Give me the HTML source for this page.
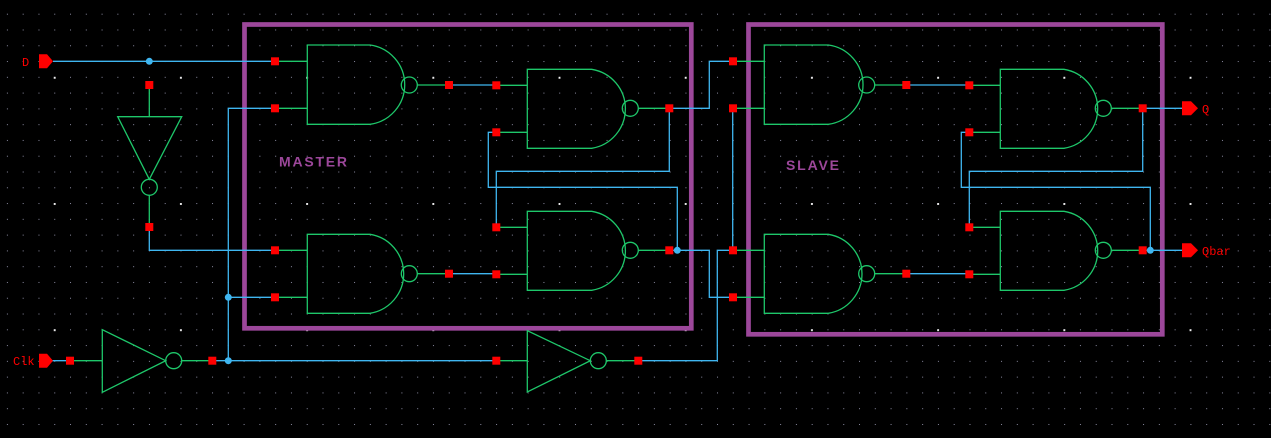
<!DOCTYPE html>
<html><head><meta charset="utf-8"><style>
html,body{margin:0;padding:0;background:#000;width:1271px;height:438px;overflow:hidden}
svg{display:block}
</style></head><body>
<svg width="1271" height="438" viewBox="0 0 1271 438" xmlns="http://www.w3.org/2000/svg">
<defs>
<pattern id="g" x="6.9" y="13.7" width="15.78" height="15.78" patternUnits="userSpaceOnUse">
<rect x="0" y="0" width="1" height="1" fill="#8a8aa0"/>
</pattern>
<pattern id="p" x="53.2" y="75.8" width="126.2" height="126.2" patternUnits="userSpaceOnUse">
<rect x="1" y="1.5" width="1" height="1" fill="#fff"/>
<rect x="0.5" y="1" width="2" height="2" fill="#fff" opacity="0.8"/>
</pattern>
</defs>
<rect width="1271" height="438" fill="#000"/>
<rect width="1271" height="438" fill="url(#g)"/>
<rect width="1271" height="438" fill="url(#p)"/>

<!-- boxes -->
<g fill="none" stroke="#9c479a" stroke-width="4.7">
<rect x="244.5" y="24.5" width="446.8" height="303.8"/>
<rect x="748.5" y="24.5" width="413.8" height="309.8"/>
</g>
<g font-family="Liberation Sans, sans-serif" font-weight="bold" font-size="14" fill="#9c479a">
<text x="279" y="166.5" textLength="68">MASTER</text>
<text x="786" y="170" textLength="53">SLAVE</text>
</g>

<!-- blue wires -->
<g fill="none" stroke="#3fb6f0" stroke-width="1.3">
<path d="M53 61.3H275"/>
<path d="M149.3 227V250.3H275"/>
<path d="M70 360.7H39"/>
<path d="M212.3 360.7H496.3"/>
<path d="M228.3 360.7V108.3H275"/>
<path d="M228.3 297.3H275"/>
<path d="M449 85H496.3"/>
<path d="M449 273.7H496.3"/>
<path d="M669.3 108.3V171.3H496.3V227.3"/>
<path d="M677.3 250.3V187.3H488.3V132.3H496.3"/>
<path d="M669.3 108.3H709.3V61.3H733"/>
<path d="M669.3 250.3H709.3V297.3H733"/>
<path d="M638.3 360.7H717.3V250.3H733"/>
<path d="M732.7 108.3V250.3"/>
<path d="M906.3 85H969.3"/>
<path d="M906.3 273.7H969.3"/>
<path d="M1142.7 108.3V171.3H969.3V227.3"/>
<path d="M1150.3 250.3V187.3H961.3V132.3H969.3"/>
<path d="M1142.7 108.3H1183"/>
<path d="M1142.7 250.3H1183"/>
</g>

<!-- gates -->
<g fill="none" stroke="#1ec76a" stroke-width="1.3">
<!-- D inverter -->
<path d="M149.3 85V116.7M117.7 116.7H181.7L149.3 179.3Z M117.7 116.7L149.3 179.3"/>
<circle cx="149.3" cy="187.3" r="8"/>
<path d="M149.3 195.3V227"/>
<!-- clk inverter1 -->
<path d="M70 360.7H102.3M102.3 329.7V392.3L165.7 360.7Z"/>
<circle cx="173.7" cy="360.7" r="8"/>
<path d="M181.7 360.7H212.3"/>
<!-- clk inverter2 -->
<path d="M496.3 360.7H527.3M527.3 330.7V392L590.3 360.7Z"/>
<circle cx="598.3" cy="360.7" r="8"/>
<path d="M606.3 360.7H638.3"/>

<!-- master NAND1 -->
<path d="M370 45H307.3V124.3H370A40 40 0 0 0 370 45Z"/>
<circle cx="409.3" cy="85" r="8"/><path d="M417.3 85H449M275 61.3H307.3M275 108.3H307.3"/>
<!-- master NAND2 -->
<path d="M370 234.3H307.3V313.3H370A40 40 0 0 0 370 234.3Z"/>
<circle cx="409.3" cy="273.7" r="8"/><path d="M417.3 273.7H449M275 250.3H307.3M275 297.3H307.3"/>
<!-- master NAND3 -->
<path d="M591.7 69.3H527.3V148.3H591.7A40 40 0 0 0 591.7 69.3Z"/>
<circle cx="630.3" cy="108.3" r="8"/><path d="M638.3 108.3H669.3M496.3 85.3H527.3M496.3 132.3H527.3"/>
<!-- master NAND4 -->
<path d="M591.7 211.3H527.3V290.3H591.7A40 40 0 0 0 591.7 211.3Z"/>
<circle cx="630.3" cy="250.3" r="8"/><path d="M638.3 250.3H669.3M496.3 227.3H527.3M496.3 274.3H527.3"/>

<!-- slave NAND1 -->
<path d="M828.3 45H764.3V124.3H828.3A40 40 0 0 0 828.3 45Z"/>
<circle cx="866.7" cy="85" r="8"/><path d="M874.7 85H906.3M733 61.3H764.3M733 108.3H764.3"/>
<!-- slave NAND2 -->
<path d="M828.3 234.3H764.3V313.3H828.3A40 40 0 0 0 828.3 234.3Z"/>
<circle cx="866.7" cy="273.7" r="8"/><path d="M874.7 273.7H906.3M733 250.3H764.3M733 297.3H764.3"/>
<!-- slave NAND3 -->
<path d="M1064 69.3H1000.3V148.3H1064A40 40 0 0 0 1064 69.3Z"/>
<circle cx="1103.3" cy="108.3" r="8"/><path d="M1111.3 108.3H1142.7M969.3 85.3H1000.3M969.3 132.3H1000.3"/>
<!-- slave NAND4 -->
<path d="M1064 211.3H1000.3V290.3H1064A40 40 0 0 0 1064 211.3Z"/>
<circle cx="1103.3" cy="250.3" r="8"/><path d="M1111.3 250.3H1142.7M969.3 227.3H1000.3M969.3 274.3H1000.3"/>
</g>

<!-- red squares -->
<g fill="#f00">
<rect x="145.3" y="81" width="8" height="8"/>
<rect x="145.3" y="223" width="8" height="8"/>
<rect x="66" y="356.7" width="8" height="8"/>
<rect x="208.3" y="356.7" width="8" height="8"/>
<rect x="271" y="57.3" width="8" height="8"/>
<rect x="271" y="104.3" width="8" height="8"/>
<rect x="271" y="246.3" width="8" height="8"/>
<rect x="271" y="293.3" width="8" height="8"/>
<rect x="445" y="81" width="8" height="8"/>
<rect x="445" y="269.7" width="8" height="8"/>
<rect x="492.3" y="81.3" width="8" height="8"/>
<rect x="492.3" y="128.3" width="8" height="8"/>
<rect x="492.3" y="223.3" width="8" height="8"/>
<rect x="492.3" y="270.3" width="8" height="8"/>
<rect x="492.3" y="356.7" width="8" height="8"/>
<rect x="634.3" y="356.7" width="8" height="8"/>
<rect x="665.3" y="104.3" width="8" height="8"/>
<rect x="665.3" y="246.3" width="8" height="8"/>
<rect x="729" y="57.3" width="8" height="8"/>
<rect x="729" y="104.3" width="8" height="8"/>
<rect x="729" y="246.3" width="8" height="8"/>
<rect x="729" y="293.3" width="8" height="8"/>
<rect x="902.3" y="81" width="8" height="8"/>
<rect x="902.3" y="269.7" width="8" height="8"/>
<rect x="965.3" y="81.3" width="8" height="8"/>
<rect x="965.3" y="128.3" width="8" height="8"/>
<rect x="965.3" y="223.3" width="8" height="8"/>
<rect x="965.3" y="270.3" width="8" height="8"/>
<rect x="1138.7" y="104.3" width="8" height="8"/>
<rect x="1138.7" y="246.3" width="8" height="8"/>
<!-- pins -->
<path d="M39 54.3H47L53 61.3L47 68.3H39Z"/>
<path d="M39 353.7H47L53 360.7L47 367.7H39Z"/>
<path d="M1182 101.3H1191L1198 108.3L1191 115.3H1182Z"/>
<path d="M1182 243.3H1191L1198 250.3L1191 257.3H1182Z"/>
</g>

<!-- junctions -->
<g fill="#3fb6f0">
<circle cx="149.3" cy="61.3" r="3.5"/>
<circle cx="228.3" cy="297.3" r="3.5"/>
<circle cx="228.3" cy="360.7" r="3.5"/>
<circle cx="677.3" cy="250.3" r="3.5"/>
<circle cx="1150.3" cy="250.3" r="3.5"/>
</g>

<g font-family="Liberation Mono, monospace" font-size="12" fill="#f00">
<text x="22" y="66">D</text>
<text x="13" y="365">Clk</text>
<text x="1202" y="113">Q</text>
<text x="1202" y="255">Qbar</text>
</g>
</svg>
</body></html>
